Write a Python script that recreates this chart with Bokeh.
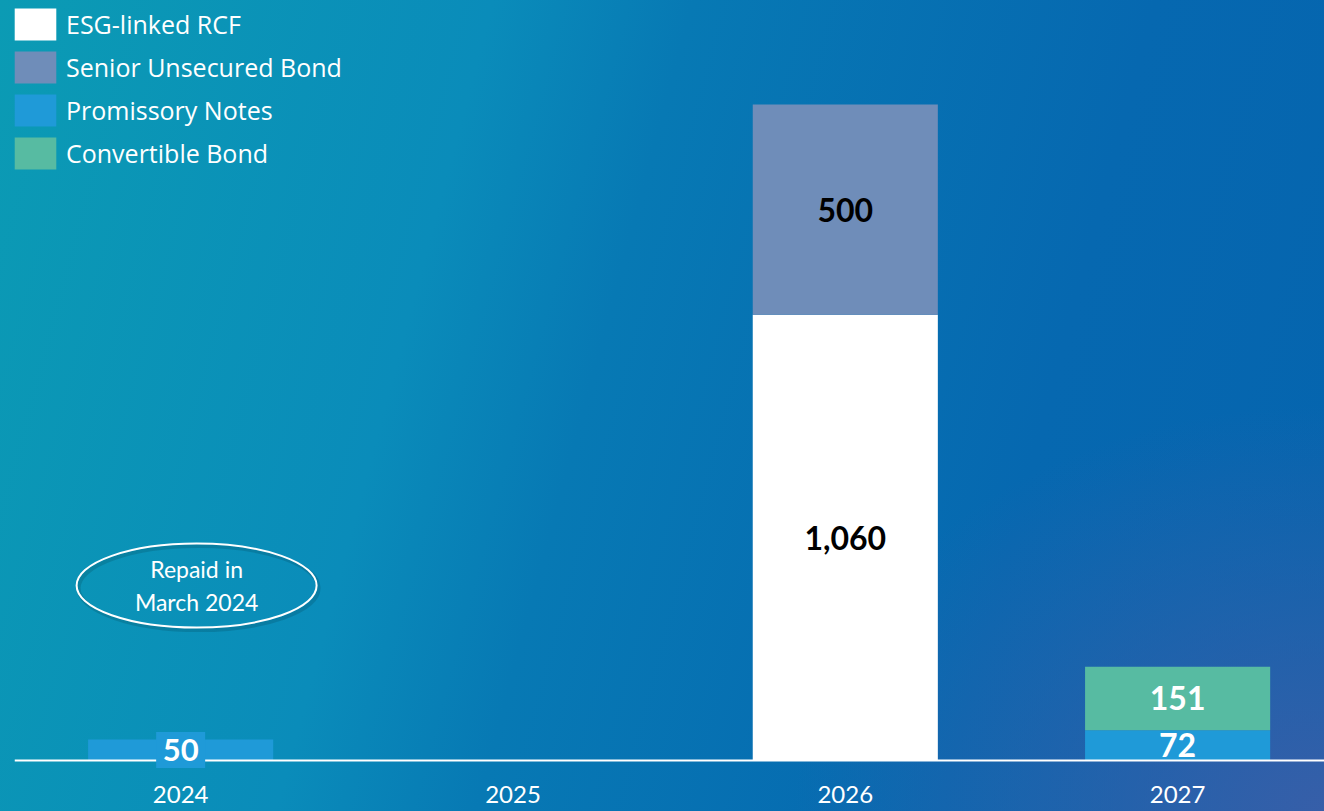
from bokeh.plotting import figure
from bokeh.models import (ColumnDataSource, FixedTicker, Legend, LegendItem,
                          LabelSet, Label, Range1d)
from bokeh.core.properties import value
from bokeh.embed import file_html
from bokeh.resources import INLINE

# ---- data ----
years = ["2024", "2025", "2026", "2027"]
esg_rcf = [0, 0, 1060, 0]
promissory = [50, 0, 0, 72]
senior = [0, 0, 500, 0]
convertible = [0, 0, 0, 151]
legend_labels = ["ESG-linked RCF", "Senior Unsecured Bond", "Promissory Notes", "Convertible Bond"]
note_text = "Repaid in\nMarch 2024"

# ---- styles ----
colors = {"esg": "#ffffff", "prom": "#1f9ad8", "senior": "#6f8db9", "conv": "#57bba2"}
label_colors = {"esg": "black", "prom": "white", "senior": "black", "conv": "white"}
FONT = "Lato"

xs = list(range(len(years)))
src = ColumnDataSource(dict(x=xs, esg=esg_rcf, prom=promissory, senior=senior, conv=convertible))

p = figure(width=1324, height=811, output_backend="svg", toolbar_location=None,
           x_range=Range1d(-0.5, 3.442), y_range=Range1d(-121.3, 1807.4),
           y_axis_location=None,
           min_border_left=14, min_border_top=0, min_border_right=0, min_border_bottom=0)
p.styles = {"background": "radial-gradient(ellipse 40% 50% at 100% 100%, rgba(60,94,168,0.9) 0%, rgba(60,94,168,0) 100%), "
                          "linear-gradient(105deg, #0b9bb4 0%, #0a8cba 32%, #0779b4 45%, #0668b0 75%, #0564ae 100%)"}
p.background_fill_alpha = 0
p.border_fill_alpha = 0
p.outline_line_color = None
p.xgrid.visible = False
p.ygrid.visible = False

keys = ["esg", "prom", "senior", "conv"]
rs = p.vbar_stack(keys, x="x", width=0.557, source=src,
                  color=[colors[k] for k in keys], line_color=None, line_width=0)
rmap = dict(zip(keys, rs))

# ---- segment labels ----
lab = dict(x=[], y=[], text=[], color=[])
box = dict(x=[], y=[], text=[], color=[])
vals = {"esg": esg_rcf, "prom": promissory, "senior": senior, "conv": convertible}
for i in xs:
    base = 0
    for k in keys:
        v = vals[k][i]
        if v > 0:
            target = box if (v < 60) else lab
            target["x"].append(i)
            target["y"].append(base + v / 2)
            target["text"].append(f"{v:,}")
            target["color"].append(label_colors[k])
        base += v

box_src = ColumnDataSource(box)
p.rect(x="x", y="y", width=49, height=36, width_units="screen", height_units="screen",
       source=box_src, fill_color=colors["prom"], line_color=None, level="annotation")
p.add_layout(LabelSet(x="x", y="y", text="text", source=ColumnDataSource(lab),
                      text_color="color", text_align="center", text_baseline="middle",
                      text_font=value(FONT), text_font_style="bold", text_font_size="32px"))
p.add_layout(LabelSet(x="x", y="y", text="text", source=box_src,
                      text_color="color", text_align="center", text_baseline="middle",
                      text_font=value(FONT), text_font_style="bold", text_font_size="31px"))

# ---- note ellipse ----
note_x, note_y = 0.048, 416
p.ellipse(x=[note_x + 0.006], y=[note_y - 6], width=240, height=84, width_units="screen",
          height_units="screen", fill_alpha=0, line_color="black", line_alpha=0.12, line_width=4)
p.ellipse(x=[note_x], y=[note_y], width=240, height=84, width_units="screen",
          height_units="screen", fill_alpha=0, line_color="white", line_width=2)
p.add_layout(Label(x=note_x, y=note_y, text=note_text, text_align="center", text_baseline="middle",
                   text_color="white", text_font=FONT, text_font_size="23px", text_line_height=1.2))

# ---- axis ----
ax = p.xaxis[0]
ax.fixed_location = 0
ax.ticker = FixedTicker(ticks=xs)
ax.major_label_overrides = {i: y for i, y in zip(xs, years)}
ax.axis_line_color = "white"
ax.axis_line_width = 2
ax.major_tick_line_color = None
ax.minor_tick_line_color = None
ax.major_label_text_color = "white"
ax.major_label_text_font = FONT
ax.major_label_text_font_size = "24px"
ax.major_label_standoff = 20

# ---- legend ----
legend = Legend(items=[LegendItem(label=legend_labels[0], renderers=[rmap["esg"]]),
                       LegendItem(label=legend_labels[1], renderers=[rmap["senior"]]),
                       LegendItem(label=legend_labels[2], renderers=[rmap["prom"]]),
                       LegendItem(label=legend_labels[3], renderers=[rmap["conv"]])],
                location=(-5, 638), margin=0, padding=0, spacing=3,
                glyph_width=52, glyph_height=40, label_height=40, label_standoff=5,
                label_text_font="Open Sans", label_text_font_size="25px", label_text_color="white",
                background_fill_alpha=0, border_line_alpha=0)
p.add_layout(legend)

open("out.html", "w").write(file_html(p, INLINE))
